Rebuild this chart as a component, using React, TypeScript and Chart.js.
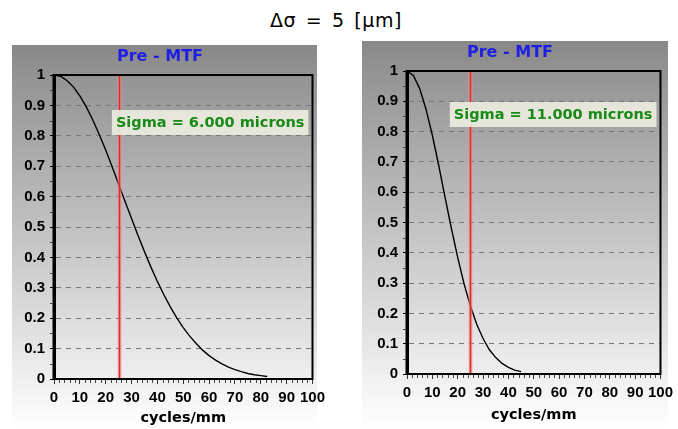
import React, { useEffect, useRef } from "react";
import { Chart, registerables } from "chart.js";

Chart.register(...registerables);

// ---------- data ----------
const MAIN_TITLE = "Δσ = 5 [μm]";
const PANEL_TITLE = "Pre - MTF";
const X_TITLE = "cycles/mm";
const MARKER_FREQ = 25;

const LEFT_SIGMA_LABEL = "Sigma = 6.000 microns";
const LEFT_FREQ = [0, 2.5, 5, 7.5, 10, 12.5, 15, 17.5, 20, 22.5, 25, 27.5, 30, 32.5, 35, 37.5, 40, 42.5, 45, 47.5, 50, 52.5, 55, 57.5, 60, 62.5, 65, 67.5, 70, 72.5, 75, 77.5, 80, 82.5];
const LEFT_MTF = [1.0, 0.996, 0.982, 0.961, 0.931, 0.895, 0.852, 0.804, 0.753, 0.698, 0.641, 0.584, 0.528, 0.472, 0.419, 0.368, 0.321, 0.277, 0.237, 0.201, 0.169, 0.141, 0.117, 0.095, 0.077, 0.062, 0.05, 0.039, 0.031, 0.024, 0.018, 0.014, 0.011, 0.008];

const RIGHT_SIGMA_LABEL = "Sigma = 11.000 microns";
const RIGHT_FREQ = [0, 2.5, 5, 7.5, 10, 12.5, 15, 17.5, 20, 22.5, 25, 27.5, 30, 32.5, 35, 37.5, 40, 42.5, 45];
const RIGHT_MTF = [1.0, 0.985, 0.942, 0.874, 0.788, 0.689, 0.584, 0.481, 0.385, 0.298, 0.225, 0.164, 0.117, 0.08, 0.054, 0.035, 0.022, 0.013, 0.008];

const X_MIN = 0;
const X_MAX = 100;
const X_STEP = 10;
const X_MINOR_STEP = 2;
const Y_MIN = 0;
const Y_MAX = 1;
const Y_STEP = 0.1;
const Y_MINOR_STEP = 0.05;

// ---------- styles ----------
const TICK_FAMILY = "Liberation Sans";
const LABEL_FONT_FAMILY = "'DejaVu Sans', Verdana, sans-serif";

type PanelProps = {
  freq: number[];
  mtf: number[];
  sigmaLabel: string;
  left: number;
  top: number;
  width: number;
  height: number;
  bgWidth: number;
  areaLeft: number;
  areaTop: number;
  padRight: number;
  axisHeight: number;
  titlePadBottom: number;
  boxTop: number;
};

function MtfPanel(p: PanelProps) {
  const ref = useRef<HTMLCanvasElement>(null);

  useEffect(() => {
    const canvas = ref.current!;
    const decorPlugin = {
      id: "decor",
      beforeDraw(chart: any) {
        const ctx = chart.ctx as CanvasRenderingContext2D;
        const ca = chart.chartArea;
        ctx.save();
        const g = ctx.createLinearGradient(0, 0, 0, p.height);
        g.addColorStop(0, "#888888");
        g.addColorStop(ca.top / p.height, "#939393");
        g.addColorStop(ca.bottom / p.height, "#efefef");
        g.addColorStop(1, "#ffffff");
        ctx.fillStyle = g;
        ctx.fillRect(0, 0, p.bgWidth, p.height);
        ctx.restore();
      },
      afterDatasetsDraw(chart: any) {
        const ctx = chart.ctx as CanvasRenderingContext2D;
        const ca = chart.chartArea;
        const xs = chart.scales.x;
        const ys = chart.scales.y;
        ctx.save();
        // red marker line
        const mx = Math.round(xs.getPixelForValue(MARKER_FREQ)) + 0.5;
        ctx.strokeStyle = "rgba(240,150,150,0.6)";
        ctx.lineWidth = 4;
        ctx.beginPath();
        ctx.moveTo(mx, ca.top);
        ctx.lineTo(mx, ca.bottom);
        ctx.stroke();
        ctx.strokeStyle = "#e02a2a";
        ctx.lineWidth = 1.6;
        ctx.beginPath();
        ctx.moveTo(mx, ca.top);
        ctx.lineTo(mx, ca.bottom);
        ctx.stroke();

        // sigma box
        ctx.font = `bold 14.5px ${LABEL_FONT_FAMILY}`;
        const tw = ctx.measureText(p.sigmaLabel).width;
        const bw = tw + 8;
        const bh = 25;
        const bx = ca.right - 4 - bw;
        const by = ca.top + p.boxTop;
        ctx.fillStyle = "rgba(236,236,222,0.92)";
        ctx.fillRect(bx, by, bw, bh);
        ctx.fillStyle = "#178a17";
        ctx.textBaseline = "middle";
        ctx.textAlign = "left";
        ctx.fillText(p.sigmaLabel, bx + 4, by + bh / 2 + 1);

        // plot border
        ctx.strokeStyle = "#000";
        ctx.lineWidth = 2;
        ctx.strokeRect(ca.left, ca.top, ca.right - ca.left, ca.bottom - ca.top);
        ctx.lineWidth = 3;
        ctx.beginPath();
        ctx.moveTo(ca.left, ca.top - 1);
        ctx.lineTo(ca.left, ca.bottom + 1);
        ctx.stroke();

        // minor ticks
        ctx.strokeStyle = "#444";
        ctx.lineWidth = 1;
        for (let v = X_MIN; v <= X_MAX + 1e-9; v += X_MINOR_STEP) {
          if (Math.abs(v / X_STEP - Math.round(v / X_STEP)) < 1e-6) continue;
          const px = Math.round(xs.getPixelForValue(v)) + 0.5;
          ctx.beginPath();
          ctx.moveTo(px, ca.bottom + 1);
          ctx.lineTo(px, ca.bottom + 4);
          ctx.stroke();
        }
        for (let v = Y_MIN + Y_MINOR_STEP; v < Y_MAX; v += Y_STEP) {
          const py = Math.round(ys.getPixelForValue(v)) + 0.5;
          ctx.beginPath();
          ctx.moveTo(ca.left - 4, py);
          ctx.lineTo(ca.left - 1, py);
          ctx.stroke();
        }

        // panel title
        ctx.font = `bold 16px ${LABEL_FONT_FAMILY}`;
        ctx.fillStyle = "#1e1ee6";
        ctx.textAlign = "center";
        ctx.textBaseline = "middle";
        ctx.fillText(PANEL_TITLE, 148, 12);
        ctx.restore();
      },
    };

    const chart = new Chart(canvas, {
      type: "line",
      data: {
        datasets: [
          {
            data: p.freq.map((f, i) => ({ x: f, y: p.mtf[i] })),
            borderColor: "#000",
            borderWidth: 1.4,
            pointRadius: 0,
            tension: 0,
            fill: false,
          },
        ],
      },
      options: {
        animation: false,
        responsive: false,
        events: [],
        layout: { padding: { left: 0, top: p.areaTop, right: p.padRight, bottom: 0 } },
        plugins: { legend: { display: false }, tooltip: { enabled: false }, title: { display: false } },
        scales: {
          x: {
            type: "linear",
            min: X_MIN,
            max: X_MAX,
            afterFit: (s: any) => {
              s.height = p.axisHeight;
            },
            ticks: {
              stepSize: X_STEP,
              color: "#000",
              font: { family: TICK_FAMILY, size: 15, weight: "bold" },
              padding: 5,
              maxRotation: 0,
              autoSkip: false,
              callback: (v: any) => String(Math.round(Number(v))),
            },
            grid: { drawOnChartArea: false, drawTicks: true, tickLength: 5, tickColor: "#333", tickWidth: 1 },
            border: { display: true, color: "#000", width: 2 },
            title: {
              display: true,
              text: X_TITLE,
              color: "#000",
              font: { family: LABEL_FONT_FAMILY, size: 14.5, weight: "bold", lineHeight: 1.2 },
              padding: { top: 0, bottom: p.titlePadBottom },
            },
          },
          y: {
            type: "linear",
            min: Y_MIN,
            max: Y_MAX,
            afterFit: (s: any) => {
              s.width = p.areaLeft;
            },
            ticks: {
              stepSize: Y_STEP,
              color: "#000",
              font: { family: TICK_FAMILY, size: 15, weight: "bold" },
              padding: 5,
              autoSkip: false,
              callback: (v: any) => String(Math.round(Number(v) * 10) / 10),
            },
            grid: {
              drawOnChartArea: true,
              drawTicks: true,
              tickLength: 4,
              tickColor: "#000",
              color: "#777777",
              lineWidth: 1,
            },
            border: { display: true, color: "#000", width: 3, dash: [5, 5] },
          },
        },
      },
      plugins: [decorPlugin],
    } as any);
    return () => chart.destroy();
  }, []);

  return (
    <canvas
      ref={ref}
      width={p.width}
      height={p.height}
      style={{ position: "absolute", left: p.left, top: p.top, width: p.width, height: p.height, display: "block" }}
    />
  );
}

export default function App() {
  return (
    <div style={{ position: "absolute", left: 0, top: 0, width: 678, height: 429, background: "#fff", overflow: "hidden" }}>
      <div
        style={{
          position: "absolute",
          left: 0,
          width: 672,
          top: 8,
          textAlign: "center",
          fontFamily: "'DejaVu Sans', sans-serif",
          fontSize: 19,
          lineHeight: "24px",
          letterSpacing: 0.6,
          wordSpacing: 3,
          color: "#000",
        }}
      >
        {MAIN_TITLE}
      </div>
      <MtfPanel
        freq={LEFT_FREQ}
        mtf={LEFT_MTF}
        sigmaLabel={LEFT_SIGMA_LABEL}
        left={12}
        top={45}
        width={318}
        height={384}
        bgWidth={305}
        areaLeft={42}
        areaTop={30}
        padRight={16}
        axisHeight={50}
        titlePadBottom={2}
        boxTop={35}
      />
      <MtfPanel
        freq={RIGHT_FREQ}
        mtf={RIGHT_MTF}
        sigmaLabel={RIGHT_SIGMA_LABEL}
        left={362}
        top={41}
        width={316}
        height={388}
        bgWidth={306}
        areaLeft={45}
        areaTop={30}
        padRight={12}
        axisHeight={55}
        titlePadBottom={5}
        boxTop={31}
      />
    </div>
  );
}
